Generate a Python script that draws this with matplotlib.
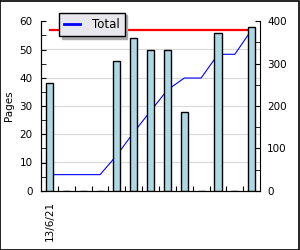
import numpy as np
import matplotlib
matplotlib.use("Agg")
import matplotlib.pyplot as plt
from matplotlib.patches import Rectangle

# pages per day (13 slots, first date label only)
labels = ["13/6/21", "", "", "", "", "", "", "", "", "", "", "", ""]
pages = [38, 0, 0, 0, 46, 54, 50, 50, 28, 0, 56, 0, 58]
series_name = "Total"

total = np.cumsum(pages)
x = np.arange(len(pages))

plt.rcParams["font.family"] = "DejaVu Sans"
plt.rcParams["font.size"] = 7.5

fig = plt.figure(figsize=(3, 2.5), dpi=100)
fig.patches.append(Rectangle((0, 0), 0.997, 0.996, transform=fig.transFigure,
                             fill=False, edgecolor="black", linewidth=1.2))

ax = fig.add_axes([0.137, 0.237, 0.73, 0.678])
ax2 = ax.twinx()

# lines on the right axis, bars on top
ax.set_zorder(2)
ax.patch.set_visible(False)
ax2.set_zorder(1)

ax2.plot(x, total, color="#0000ff", linewidth=0.8, label=series_name)
ax2.plot([x[0], x[-1]], [total[-1], total[-1]], color="#ff0000", linewidth=1.6)
ax2.set_ylim(0, 400)
ax2.set_yticks([0, 100, 200, 300, 400])
ax2.set_yticks([50, 150, 250, 350], minor=True)

ax.bar(x, pages, width=0.42, color="#add8e6", edgecolor="black", linewidth=1.0)
ax.set_ylim(0, 60)
ax.set_xlim(-0.5, len(pages) - 0.5)
ax.set_yticks(range(0, 61, 10))
ax.set_yticks(range(5, 60, 10), minor=True)
ax.set_ylabel("Pages", labelpad=4)

for v in range(10, 60, 10):
    ax2.axhline(v * 400 / 60, color="#d9d9d9", linewidth=0.8, zorder=0)

ax.set_xticks(np.arange(0.5, len(pages) - 1, 1.0))
ax.set_xticklabels([])
ax.set_xticks(x, minor=True)
ax.set_xticklabels(labels, minor=True, rotation=90)
ax.tick_params(axis="x", which="minor", length=0, pad=7)
ax.tick_params(axis="x", which="major", direction="in", length=3.5)

ax.tick_params(axis="y", which="both", direction="in", length=3.5, pad=6)
ax2.tick_params(axis="y", which="both", direction="in", length=3.5, pad=5)

for a in (ax, ax2):
    a.spines["top"].set_visible(False)
ax.spines["right"].set_visible(False)

leg = fig.legend(handles=ax2.get_lines()[:1], loc="upper left",
                 bbox_to_anchor=(0.197, 0.95), borderaxespad=0, frameon=True,
                 fancybox=False, shadow={"color": "#aaaaaa", "alpha": 1.0},
                 handlelength=1.3, handletextpad=1.0, borderpad=0.45, fontsize=8.5)
leg.get_frame().set_facecolor("#e9e7ee")
leg.get_frame().set_edgecolor("black")
leg.get_frame().set_alpha(1.0)
leg.get_lines()[0].set_linewidth(2)

fig.savefig("out.png", dpi=100)
